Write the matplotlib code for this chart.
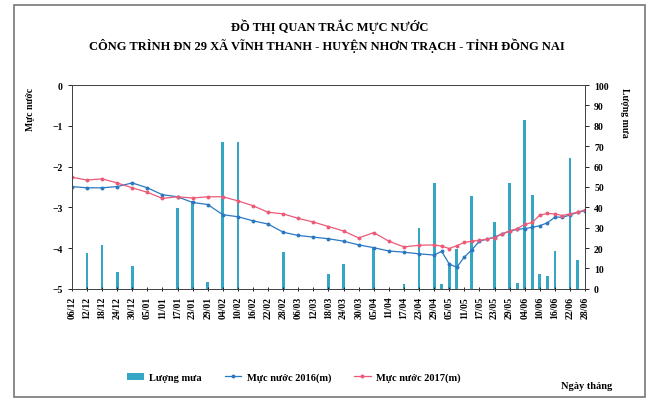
import matplotlib.pyplot as plt
from matplotlib.patches import Rectangle

# ngay do (so ngay tinh tu 06/12)
days = [0, 6, 12, 18, 24, 30, 36, 42, 48, 54, 60, 66, 72, 78, 84, 90, 96, 102,
        108, 114, 120, 126, 132, 138, 144, 147, 150, 153, 156, 159, 162, 165,
        168, 171, 174, 177, 180, 183, 186, 189, 192, 195, 198, 201, 204]

muc_nuoc_2016 = [-2.49, -2.52, -2.52, -2.49, -2.40, -2.52, -2.69, -2.74, -2.88,
                 -2.93, -3.18, -3.23, -3.33, -3.41, -3.61, -3.69, -3.73, -3.77,
                 -3.83, -3.92, -3.99, -4.07, -4.10, -4.14, -4.17, -4.08, -4.39,
                 -4.47, -4.22, -4.04, -3.83, -3.78, -3.73, -3.65, -3.58, -3.54,
                 -3.52, -3.49, -3.45, -3.38, -3.24, -3.24, -3.19, -3.12, -3.08]

muc_nuoc_2017 = [-2.26, -2.33, -2.30, -2.40, -2.52, -2.63, -2.78, -2.74, -2.77,
                 -2.74, -2.74, -2.84, -2.96, -3.12, -3.16, -3.27, -3.36, -3.47,
                 -3.58, -3.75, -3.62, -3.83, -3.97, -3.93, -3.92, -3.95, -4.01,
                 -3.94, -3.86, -3.83, -3.81, -3.78, -3.74, -3.66, -3.58, -3.52,
                 -3.42, -3.37, -3.19, -3.15, -3.16, -3.20, -3.16, -3.12, -3.06]

luong_mua = [41, 17.5, 21.5, 8.5, 11, 0, 0, 39.5, 43, 3.5, 72, 72, 0, 0, 18,
             0, 0, 7.5, 12, 0, 20, 0, 2.5, 30, 52, 2.5, 12.5, 19.5, 0, 45.5,
             0, 0, 33, 0, 52, 3, 83, 46, 7.5, 6.5, 18.5, 0, 64, 14, 0]

tick_days = list(range(0, 205, 6))
tick_labels = ["06/12", "12/12", "18/12", "24/12", "30/12", "05/01", "11/01",
               "17/01", "23/01", "29/01", "04/02", "10/02", "16/02", "22/02",
               "28/02", "06/03", "12/03", "18/03", "24/03", "30/03", "05/04",
               "11/04", "17/04", "23/04", "29/04", "05/05", "11/05", "17/05",
               "23/05", "29/05", "04/06", "10/06", "16/06", "22/06", "28/06"]

serif = "Liberation Serif"
c_bar = "#35a7c4"
c_2016 = "#2b78c2"
c_2017 = "#ec5a78"

fig = plt.figure(figsize=(6.53, 4.10), dpi=100)
fig.patches.append(Rectangle((0.022, 0.03), 0.965, 0.955, transform=fig.transFigure,
                             fill=False, edgecolor="#777777", linewidth=1.2))

ax = fig.add_axes([0.110, 0.293, 0.786, 0.497])
ax2 = ax.twinx()
ax.set_zorder(ax2.get_zorder() + 1)
ax.patch.set_visible(False)

ax2.bar(days, luong_mua, width=1.1, color=c_bar, label="Lượng mưa")
ax.plot(days, muc_nuoc_2016, color=c_2016, marker="o", markersize=1.8,
        linewidth=0.9, label="Mực nước 2016(m)")
ax.plot(days, muc_nuoc_2017, color=c_2017, marker="o", markersize=1.8,
        linewidth=0.9, label="Mực nước 2017(m)")

ax.set_xlim(0, 204)
ax.set_ylim(-5, 0)
ax2.set_ylim(0, 100)
ax.set_yticks(range(-5, 1))
ax2.set_yticks(range(0, 101, 10))
ax.set_xticks(tick_days)
ax.set_xticklabels(tick_labels, rotation=90, fontsize=7, family=serif, weight="bold")
for lab in ax.get_yticklabels() + ax2.get_yticklabels():
    lab.set_family(serif)
    lab.set_weight("bold")
    lab.set_fontsize(7)
ax.tick_params(axis="x", length=3, direction="inout", width=0.6)
ax.tick_params(axis="y", length=3, width=0.6)
ax2.tick_params(axis="y", length=3, width=0.6)
for a in (ax, ax2):
    for s in a.spines.values():
        s.set_linewidth(0.7)
        s.set_color("#444444")

fig.text(0.046, 0.785, "Mực nước", rotation=90, ha="center", va="top",
         family=serif, weight="bold", fontsize=7)
fig.text(0.957, 0.785, "Lượng mưa", rotation=-90, ha="center", va="top",
         family=serif, weight="bold", fontsize=7)

fig.text(0.505, 0.934, "ĐỒ THỊ QUAN TRẮC MỰC NƯỚC", ha="center", va="center",
         family=serif, weight="bold", fontsize=9)
fig.text(0.50, 0.889, "CÔNG TRÌNH ĐN 29 XÃ VĨNH THANH - HUYỆN NHƠN TRẠCH - TỈNH ĐỒNG NAI",
         ha="center", va="center", family=serif, weight="bold", fontsize=9)

h1, l1 = ax2.get_legend_handles_labels()
h2, l2 = ax.get_legend_handles_labels()
fig.legend(h1 + h2, l1 + l2, loc="center", bbox_to_anchor=(0.45, 0.077), ncol=3,
           frameon=False, prop={"family": serif, "weight": "bold", "size": 7.5},
           handlelength=1.6, handletextpad=0.5, columnspacing=2.2)
fig.text(0.898, 0.058, "Ngày tháng", ha="center", va="center",
         family=serif, weight="bold", fontsize=7.5)

fig.savefig("out.png", dpi=100)
